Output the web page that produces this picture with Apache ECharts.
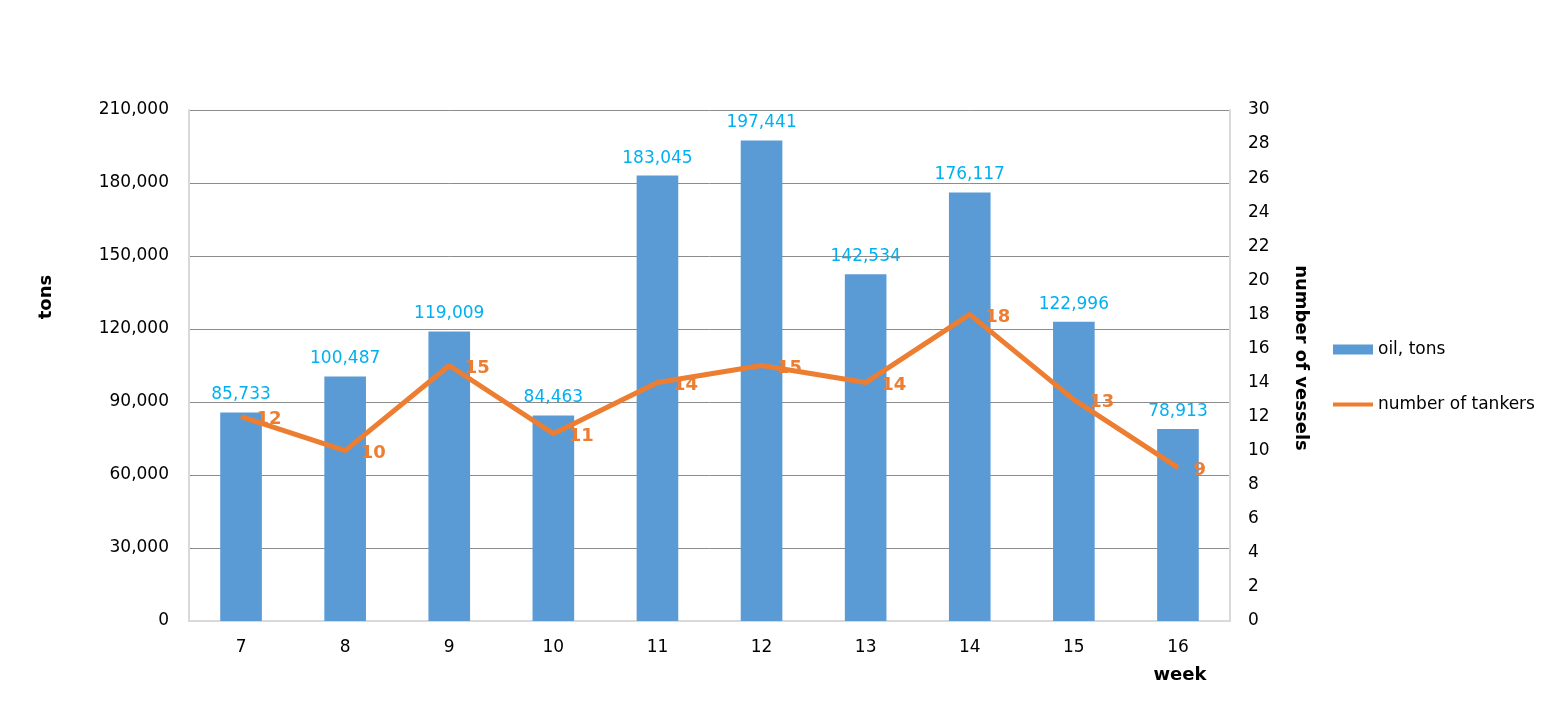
<!DOCTYPE html>
<html>
<head>
<meta charset="utf-8">
<script src="https://cdn.jsdelivr.net/npm/echarts@6/dist/echarts.min.js"></script>
<style>
  html, body { margin: 0; padding: 0; background: #fff; }
  #chart { width: 1554px; height: 718px; }
</style>
</head>
<body>
<div id="chart"></div>
<script>
// weekly oil exports and tanker count
const weeks = ['7', '8', '9', '10', '11', '12', '13', '14', '15', '16'];
const oilTons = [85733, 100487, 119009, 84463, 183045, 197441, 142534, 176117, 122996, 78913];
const tankers = [12, 10, 15, 11, 14, 15, 14, 18, 13, 9];

const FONT = 'DejaVu Sans';
const fmt = v => v.toLocaleString('en-US');

const chart = echarts.init(document.getElementById('chart'));

chart.setOption({
    animation: false,
    textStyle: { fontFamily: FONT },
    grid: { left: 189, right: 324, top: 110, bottom: 97 },
    legend: {
        orient: 'vertical',
        left: 1328,
        top: 336,
        itemWidth: 40,
        itemHeight: 10,
        itemGap: 38,
        textStyle: { fontSize: 17, color: '#000', fontFamily: FONT },
        data: [
            { name: 'oil, tons', icon: 'rect' },
            { name: 'number of tankers', icon: 'path://M0,0 L40,0 L40,4 L0,4 Z' }
        ]
    },
    xAxis: {
        type: 'category',
        data: weeks,
        axisLine: { lineStyle: { color: '#d9d9d9', width: 2 } },
        axisTick: { show: false },
        axisLabel: { color: '#000', fontSize: 17, margin: 18 }
    },
    yAxis: [
        {
            type: 'value',
            min: 0,
            max: 210000,
            interval: 30000,
            axisLine: { show: true, lineStyle: { color: '#d9d9d9', width: 2 } },
            axisTick: { show: false },
            axisLabel: { color: '#000', fontSize: 17, margin: 20, formatter: fmt },
            splitLine: { lineStyle: { color: '#8c8c8c', width: 1 } }
        },
        {
            type: 'value',
            min: 0,
            max: 30,
            interval: 2,
            axisLine: { show: true, lineStyle: { color: '#d9d9d9', width: 2 } },
            axisTick: { show: false },
            axisLabel: { color: '#000', fontSize: 17, margin: 18 },
            splitLine: { show: false }
        }
    ],
    series: [
        {
            name: 'oil, tons',
            type: 'bar',
            data: oilTons,
            barWidth: '40%',
            itemStyle: { color: '#5b9bd5' },
            label: {
                show: true,
                position: 'top',
                distance: 9,
                color: '#00b0f0',
                fontSize: 17,
                formatter: p => fmt(p.value)
            }
        },
        {
            name: 'number of tankers',
            type: 'line',
            yAxisIndex: 1,
            data: tankers,
            symbol: 'circle',
            symbolSize: 1,
            lineStyle: { color: '#ed7d31', width: 5 },
            itemStyle: { color: '#ed7d31' },
            label: {
                show: true,
                position: 'right',
                distance: 15,
                offset: [0, 3],
                color: '#ed7d31',
                fontSize: 18,
                fontWeight: 'bold'
            }
        }
    ],
    graphic: [
        {
            type: 'text',
            x: 46,
            y: 297,
            rotation: Math.PI / 2,
            style: { text: 'tons', font: 'bold 18px ' + FONT, fill: '#000', align: 'center', verticalAlign: 'middle' }
        },
        {
            type: 'text',
            x: 1301,
            y: 358,
            rotation: -Math.PI / 2,
            style: { text: 'number of vessels', font: 'bold 18px ' + FONT, fill: '#000', align: 'center', verticalAlign: 'middle' }
        },
        {
            type: 'text',
            x: 1180,
            y: 675,
            style: { text: 'week', font: 'bold 18px ' + FONT, fill: '#000', align: 'center', verticalAlign: 'middle' }
        }
    ]
});
</script>
</body>
</html>
